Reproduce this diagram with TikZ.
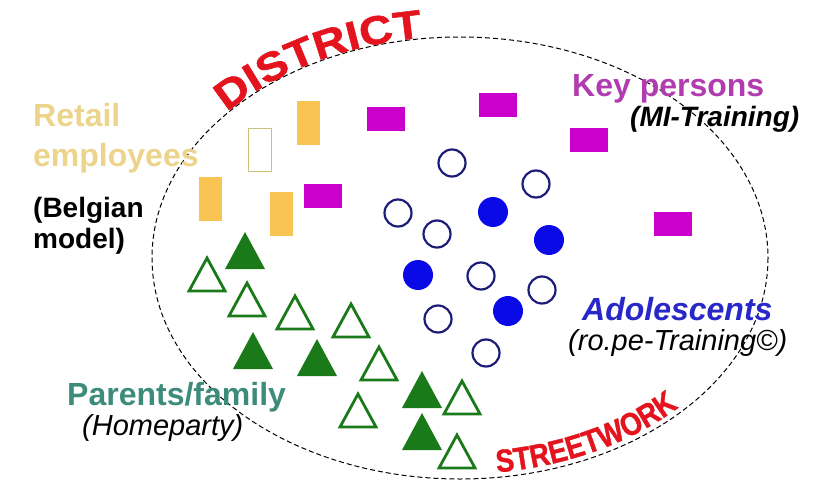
\documentclass[tikz,border=0pt]{standalone}
\usepackage{fontspec}
\setmainfont{Liberation Sans}
\newfontfamily\stampfont[FakeStretch=0.86, FakeBold=1.2]{Liberation Sans Bold}
\newfontfamily\widestamp[FakeStretch=1.15, FakeBold=1.5]{Liberation Sans Bold}
\usetikzlibrary{decorations.text}
\definecolor{cred}{HTML}{E4141E}
\definecolor{corange}{HTML}{F9C454}
\definecolor{ckhaki}{HTML}{C9C07E}
\definecolor{cmagenta}{HTML}{CC00CC}
\definecolor{cplum}{HTML}{B03CB0}
\definecolor{cblue}{HTML}{0A0AE6}
\definecolor{cnavy}{HTML}{1C1C78}
\definecolor{cindigo}{HTML}{2828C8}
\definecolor{cgreen}{HTML}{1A7A1A}
\definecolor{cteal}{HTML}{3D8C7B}
\definecolor{cgold}{HTML}{EDD48C}
\tikzset{
  every picture/.style={x=1pt, y=-1pt},
  head/.style={font=\bfseries\fontsize{32}{40}\selectfont, inner sep=0pt, anchor=base west},
  sub/.style={font=\itshape\fontsize{29}{31}\selectfont, inner sep=0pt, anchor=base west},
  staff/.style={fill=corange},
  keyp/.style={fill=cmagenta},
  teen/.style={draw=cnavy, line width=2.2pt},
  teenfill/.style={fill=cblue},
  parent/.style={draw=cgreen, line width=2.8pt, line join=miter},
  parentfill/.style={fill=cgreen},
}

\begin{document}
\begin{tikzpicture}
  \useasboundingbox (0,0) rectangle (818,481);
  % the district
  \draw[dash pattern=on 5pt off 3pt, line width=1pt] (460,258) ellipse [x radius=308, y radius=221];
  \path[decorate, decoration={text along path, text align=fit to path, raise=1pt,
      text={|\color{cred}\widestamp\fontsize{40}{40}\selectfont|DISTRICT}}]
    (460,258) ++(-139:308 and 221) arc[start angle=-139, end angle=-98, x radius=308, y radius=221];
  \path[decorate, decoration={text along path, text align=fit to path, raise=5pt,
      text={|\color{cred}\stampfont\fontsize{32}{32}\selectfont|STREETWORK}}]
    (460,258) ++(83:308 and 221) arc[start angle=83, end angle=44, x radius=308, y radius=221];
  % retail employees
  \foreach \x/\y in {308/123, 210/199, 281/214}
    \fill[staff] (\x-11.5,\y-22) rectangle ++(23,44);
  \draw[draw=ckhaki, line width=1.6pt] (248.5,128.5) rectangle (271.5,171.5);
  % key persons
  \foreach \x/\y in {386/119, 323/196, 498/105, 589/140, 673/224}
    \fill[keyp] (\x-19,\y-12) rectangle ++(38,24);
  % adolescents
  \foreach \x/\y in {452/163, 536/184, 398/213, 437/234, 481/276, 542/290, 438/319, 486/353}
    \draw[teen] (\x,\y) circle (13.5);
  \foreach \x/\y in {493/212, 549/240, 418/275, 508/311}
    \fill[teenfill] (\x,\y) circle (15);
  % parents and family
  \foreach \x/\y in {207/275, 247/300, 295/313, 351/321, 379/364, 358/411, 462/398, 457/452}
    \draw[parent] (\x,\y) ++(-18,16) -- ++(36,0) -- ++(-18,-33) -- cycle;
  \foreach \x/\y in {245/251, 253/351, 317/358, 422/390, 422/432}
    \fill[parentfill] (\x,\y) ++(-20,18) -- ++(40,0) -- ++(-20,-37) -- cycle;
  % labels
  \node[head, text=cgold] (retail) at (33,127) {Retail};
  \node[head, text=cgold] (employees) at (33,167) {employees};
  \node[head, font=\bfseries\fontsize{28}{31}\selectfont] (belgian) at (33,217) {(Belgian};
  \node[head, font=\bfseries\fontsize{28}{31}\selectfont] (model) at (33,248) {model)};
  \node[head, text=cplum] (keyp) at (572,97) {Key persons};
  \node[sub, font=\bfseries\itshape\fontsize{28}{31}\selectfont] (mi) at (630,127) {(MI-Training)};
  \node[head, font=\bfseries\itshape\fontsize{32}{40}\selectfont, text=cindigo] (teens) at (582,320) {Adolescents};
  \node[sub] (rope) at (568,350) {(ro.pe-Training©)};
  \node[head, text=cteal] (parents) at (67,405) {Parents/family};
  \node[sub] (home) at (82,435) {(Homeparty)};
\end{tikzpicture}
\end{document}
